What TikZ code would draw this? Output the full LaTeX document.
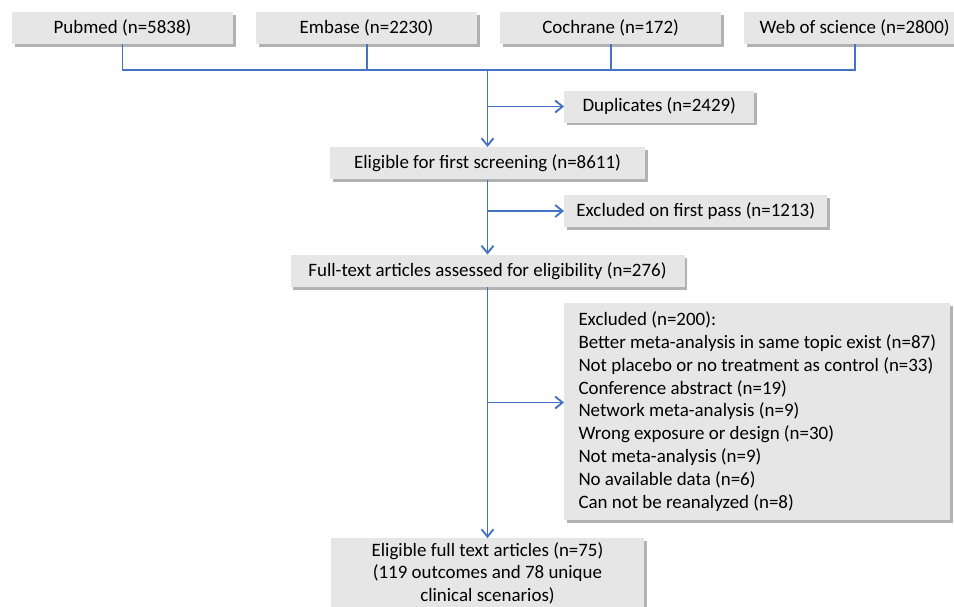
\documentclass[tikz,border=0pt]{standalone}
\usepackage{fontspec}
\setmainfont{Carlito}
\usetikzlibrary{positioning,shadows,arrows.meta}
\definecolor{boxgray}{RGB}{230,230,230}
\definecolor{lineblue}{RGB}{68,114,196}

\begin{document}
\begin{tikzpicture}[x=0.75pt, y=-0.75pt,
        main/.style = {fill=boxgray, drop shadow={shadow xshift=2.2pt, shadow yshift=-2.2pt, fill=black!55, opacity=0.55}, font=\fontsize{14.2}{17.1}\selectfont, minimum height=24pt, inner xsep=5pt, inner ysep=0pt},
        link/.style = {draw=lineblue, line width=1.4pt},
        arr/.style = {link, -{Straight Barb[length=5.5pt,width=9pt]}}]
        \useasboundingbox (0,0) rectangle (954,607);
        \node[main, minimum width=165.75pt] (pubmed) at (122.5,28) {Pubmed (n=5838)};
        \node[main, minimum width=165.75pt] (embase) [right=16.9pt of pubmed] {Embase (n=2230)};
        \node[main, minimum width=165.75pt] (cochrane) [right=16.9pt of embase] {Cochrane (n=172)};
        \node[main, minimum width=165.75pt] (wos) [right=16.9pt of cochrane] {Web of science (n=2800)};
        \coordinate (bus) at (487.5,70);
        \node[main, minimum width=236.25pt] (elig) [below=57.75pt of bus] {Eligible for first screening (n=8611)};
        \node[main, minimum width=295.5pt] (full) [below=56.25pt of elig] {Full-text articles assessed for eligibility (n=276)};
        \node[main, minimum width=234.75pt, align=center, inner ysep=3pt] (final) [below=188.25pt of full] {Eligible full text articles (n=75)\\(119 outcomes and 78 unique\\clinical scenarios)};
        \node[main, minimum width=142.5pt, anchor=west] (dup) at (564,106.5) {Duplicates (n=2429)};
        \node[main, minimum width=197.25pt, anchor=west] (excl1) at (564,211) {Excluded on first pass (n=1213)};
        \node[main, minimum width=289.5pt, minimum height=162.75pt, align=left, anchor=west] (excl2) at (564,411.5) {Excluded (n=200):\\Better meta-analysis in same topic exist (n=87)\\Not placebo or no treatment as control (n=33)\\Conference abstract (n=19)\\Network meta-analysis (n=9)\\Wrong exposure or design (n=30)\\Not meta-analysis (n=9)\\No available data (n=6)\\Can not be reanalyzed (n=8)};
        \draw[link] (pubmed.south) |- (bus) -| (wos.south);
        \draw[link] (embase.south) -- (embase.south |- bus);
        \draw[link] (cochrane.south) -- (cochrane.south |- bus);
        \draw[arr] (bus) -- (elig);
        \draw[arr] (dup.west -| bus) -- (dup.west);
        \draw[arr] (elig) -- (full);
        \draw[arr] (excl1.west -| elig) -- (excl1.west);
        \draw[arr] (full) -- (final);
        \draw[arr] ([yshift=6.75pt]excl2.west -| full) -- ([yshift=6.75pt]excl2.west);
    \end{tikzpicture}
\end{document}
